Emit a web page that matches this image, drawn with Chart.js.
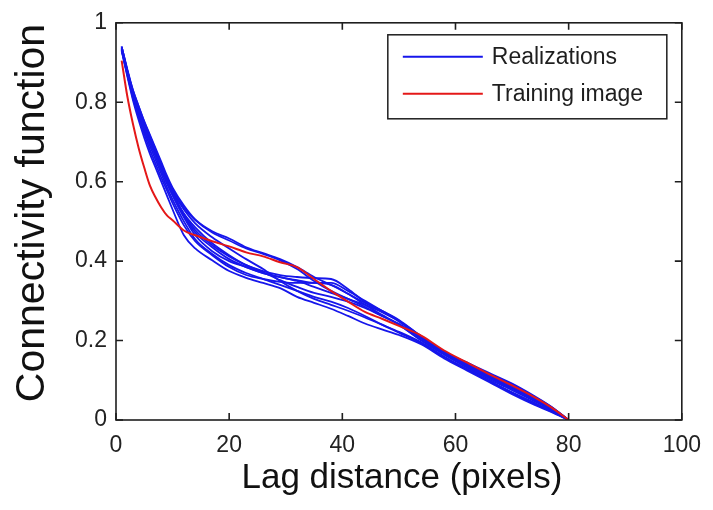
<!DOCTYPE html>
<html>
<head>
<meta charset="utf-8">
<script src="https://cdn.jsdelivr.net/npm/chart.js@4"></script>
<style>
  body { margin: 0; background: #fff; }
  #wrap { width: 713px; height: 510px; }
</style>
</head>
<body>
<div id="wrap"><canvas id="connChart"></canvas></div>
<script>
// Lag distances (pixels) where the curves are sampled
const lagX = [1, 2, 3, 4, 5, 6, 7, 8, 9, 10, 12, 14, 17, 20, 23, 26, 29, 32, 35, 38, 41, 44, 47, 50, 54, 58, 62, 66, 70, 74, 77, 80];

// Training image connectivity
const trainingImage = [0.905, 0.815, 0.745, 0.685, 0.635, 0.59, 0.56, 0.535, 0.515, 0.503, 0.477, 0.465, 0.45, 0.437, 0.422, 0.412, 0.397, 0.385, 0.355, 0.325, 0.298, 0.272, 0.255, 0.237, 0.212, 0.175, 0.145, 0.115, 0.087, 0.057, 0.031, 0.0];

// Realizations
const real01 = [0.94, 0.88, 0.83, 0.79, 0.75, 0.715, 0.68, 0.645, 0.61, 0.58, 0.535, 0.503, 0.472, 0.452, 0.432, 0.418, 0.402, 0.38, 0.35, 0.325, 0.305, 0.29, 0.272, 0.25, 0.205, 0.168, 0.138, 0.11, 0.082, 0.052, 0.028, 0.0];
const real02 = [0.935, 0.875, 0.82, 0.775, 0.735, 0.70, 0.665, 0.632, 0.60, 0.57, 0.52, 0.485, 0.445, 0.415, 0.39, 0.375, 0.365, 0.36, 0.357, 0.355, 0.33, 0.297, 0.272, 0.248, 0.208, 0.17, 0.142, 0.115, 0.09, 0.058, 0.032, 0.0];
const real03 = [0.93, 0.865, 0.805, 0.755, 0.71, 0.67, 0.635, 0.60, 0.565, 0.53, 0.465, 0.432, 0.402, 0.375, 0.358, 0.345, 0.332, 0.31, 0.295, 0.28, 0.262, 0.243, 0.228, 0.214, 0.19, 0.155, 0.125, 0.095, 0.065, 0.038, 0.02, 0.0];
const real04 = [0.935, 0.875, 0.82, 0.775, 0.735, 0.70, 0.665, 0.628, 0.595, 0.565, 0.51, 0.465, 0.425, 0.40, 0.385, 0.37, 0.36, 0.35, 0.335, 0.32, 0.305, 0.285, 0.262, 0.24, 0.20, 0.165, 0.135, 0.105, 0.078, 0.05, 0.027, 0.0];
const real05 = [0.94, 0.88, 0.825, 0.785, 0.745, 0.71, 0.675, 0.64, 0.605, 0.575, 0.53, 0.495, 0.46, 0.432, 0.405, 0.38, 0.35, 0.325, 0.305, 0.29, 0.275, 0.258, 0.24, 0.222, 0.195, 0.16, 0.128, 0.098, 0.07, 0.043, 0.023, 0.0];
const real06 = [0.93, 0.87, 0.81, 0.765, 0.72, 0.68, 0.645, 0.61, 0.578, 0.546, 0.49, 0.45, 0.415, 0.385, 0.365, 0.355, 0.348, 0.345, 0.345, 0.34, 0.318, 0.29, 0.265, 0.24, 0.20, 0.165, 0.132, 0.102, 0.075, 0.047, 0.025, 0.0];
const real07 = [0.935, 0.878, 0.825, 0.78, 0.74, 0.705, 0.67, 0.636, 0.603, 0.572, 0.518, 0.478, 0.44, 0.412, 0.39, 0.372, 0.352, 0.335, 0.32, 0.31, 0.298, 0.282, 0.262, 0.242, 0.205, 0.17, 0.138, 0.108, 0.08, 0.052, 0.028, 0.0];
const real08 = [0.94, 0.883, 0.83, 0.79, 0.752, 0.718, 0.684, 0.65, 0.615, 0.585, 0.54, 0.505, 0.475, 0.457, 0.435, 0.42, 0.405, 0.385, 0.36, 0.34, 0.318, 0.295, 0.275, 0.252, 0.21, 0.172, 0.145, 0.118, 0.092, 0.06, 0.033, 0.0];
const real09 = [0.932, 0.87, 0.815, 0.77, 0.728, 0.69, 0.655, 0.62, 0.586, 0.555, 0.50, 0.455, 0.418, 0.39, 0.37, 0.355, 0.34, 0.325, 0.31, 0.298, 0.282, 0.262, 0.24, 0.22, 0.193, 0.158, 0.128, 0.098, 0.068, 0.04, 0.021, 0.0];
const real10 = [0.935, 0.877, 0.823, 0.778, 0.738, 0.703, 0.668, 0.634, 0.60, 0.57, 0.515, 0.472, 0.435, 0.405, 0.385, 0.37, 0.36, 0.352, 0.345, 0.345, 0.325, 0.30, 0.275, 0.25, 0.21, 0.172, 0.14, 0.112, 0.085, 0.055, 0.03, 0.0];
const realizations = [real01, real02, real03, real04, real05, real06, real07, real08, real09, real10];

// Axis ticks
const xTicks = [0, 20, 40, 60, 80, 100];
const yTicks = [0, 0.2, 0.4, 0.6, 0.8, 1];

const BLUE = 'rgb(22, 22, 235)';
const RED = 'rgb(228, 24, 24)';
const INK = '#1e1e1e';
const FONT = "'Liberation Sans', Arial, sans-serif";

function toPoints(values) {
    return values.map((v, i) => ({ x: lagX[i], y: v }));
}

// MATLAB-like box, inward ticks, legend and axis titles
const matlabAxes = {
    id: 'matlabAxes',
    afterDatasetsDraw(chart) {
        const { ctx, chartArea: a, scales } = chart;
        const tl = 7;
        ctx.save();
        ctx.strokeStyle = INK;
        ctx.lineWidth = 1.6;
        ctx.strokeRect(a.left, a.top, a.right - a.left, a.bottom - a.top);

        ctx.beginPath();
        xTicks.forEach(t => {
            const px = scales.x.getPixelForValue(t);
            ctx.moveTo(px, a.bottom); ctx.lineTo(px, a.bottom - tl);
            ctx.moveTo(px, a.top); ctx.lineTo(px, a.top + tl);
        });
        yTicks.forEach(t => {
            const py = scales.y.getPixelForValue(t);
            ctx.moveTo(a.left, py); ctx.lineTo(a.left + tl, py);
            ctx.moveTo(a.right, py); ctx.lineTo(a.right - tl, py);
        });
        ctx.stroke();

        // legend
        const bx = a.right - 294, by = a.top + 12, bw = 279, bh = 84;
        ctx.fillStyle = '#fff';
        ctx.fillRect(bx, by, bw, bh);
        ctx.lineWidth = 1.5;
        ctx.strokeRect(bx, by, bw, bh);
        const entries = [
            { text: 'Realizations', color: BLUE },
            { text: 'Training image', color: RED }
        ];
        ctx.font = '23px ' + FONT;
        ctx.textBaseline = 'middle';
        ctx.textAlign = 'left';
        entries.forEach((e, i) => {
            const ry = by + 22 + i * 37;
            ctx.strokeStyle = e.color;
            ctx.lineWidth = 2;
            ctx.beginPath();
            ctx.moveTo(bx + 15, ry); ctx.lineTo(bx + 95, ry);
            ctx.stroke();
            ctx.fillStyle = INK;
            ctx.fillText(e.text, bx + 104, ry + 1);
        });

        // axis titles
        ctx.fillStyle = '#111';
        ctx.textBaseline = 'alphabetic';
        ctx.textAlign = 'center';
        ctx.font = '35px ' + FONT;
        ctx.fillText('Lag distance (pixels)', 402, 488);
        ctx.translate(44, 213);
        ctx.rotate(-Math.PI / 2);
        ctx.font = '41px ' + FONT;
        ctx.fillText('Connectivity function', 0, 0);
        ctx.restore();
    }
};

const datasets = [{
    label: 'Training image',
    data: toPoints(trainingImage),
    borderColor: RED,
    borderWidth: 2,
    showLine: true,
    pointRadius: 0,
    cubicInterpolationMode: 'monotone'
}];
realizations.forEach((r, i) => {
    datasets.push({
        label: 'Realization ' + (i + 1),
        data: toPoints(r),
        borderColor: BLUE,
        borderWidth: 1.8,
        showLine: true,
        pointRadius: 0,
        cubicInterpolationMode: 'monotone'
    });
});

new Chart(document.getElementById('connChart'), {
    type: 'scatter',
    data: { datasets },
    options: {
        responsive: true,
        maintainAspectRatio: false,
        animation: false,
        layout: { padding: { top: 21, right: 21, left: 0, bottom: 0 } },
        plugins: {
            legend: { display: false },
            tooltip: { enabled: false }
        },
        scales: {
            x: {
                type: 'linear',
                min: 0,
                max: 100,
                afterBuildTicks: s => { s.ticks = xTicks.map(v => ({ value: v })); },
                afterFit: s => { s.height = 90; },
                grid: { display: false, drawTicks: false },
                border: { display: false },
                ticks: {
                    font: { family: FONT, size: 23 },
                    color: '#222',
                    padding: 12,
                    maxRotation: 0,
                    callback: v => String(v)
                }
            },
            y: {
                min: 0,
                max: 1,
                afterBuildTicks: s => { s.ticks = yTicks.map(v => ({ value: v })); },
                afterFit: s => { s.width = 116; },
                grid: { display: false, drawTicks: false },
                border: { display: false },
                ticks: {
                    font: { family: FONT, size: 23 },
                    color: '#222',
                    padding: 9,
                    callback: v => String(v)
                }
            }
        }
    },
    plugins: [matlabAxes]
});
</script>
</body>
</html>
